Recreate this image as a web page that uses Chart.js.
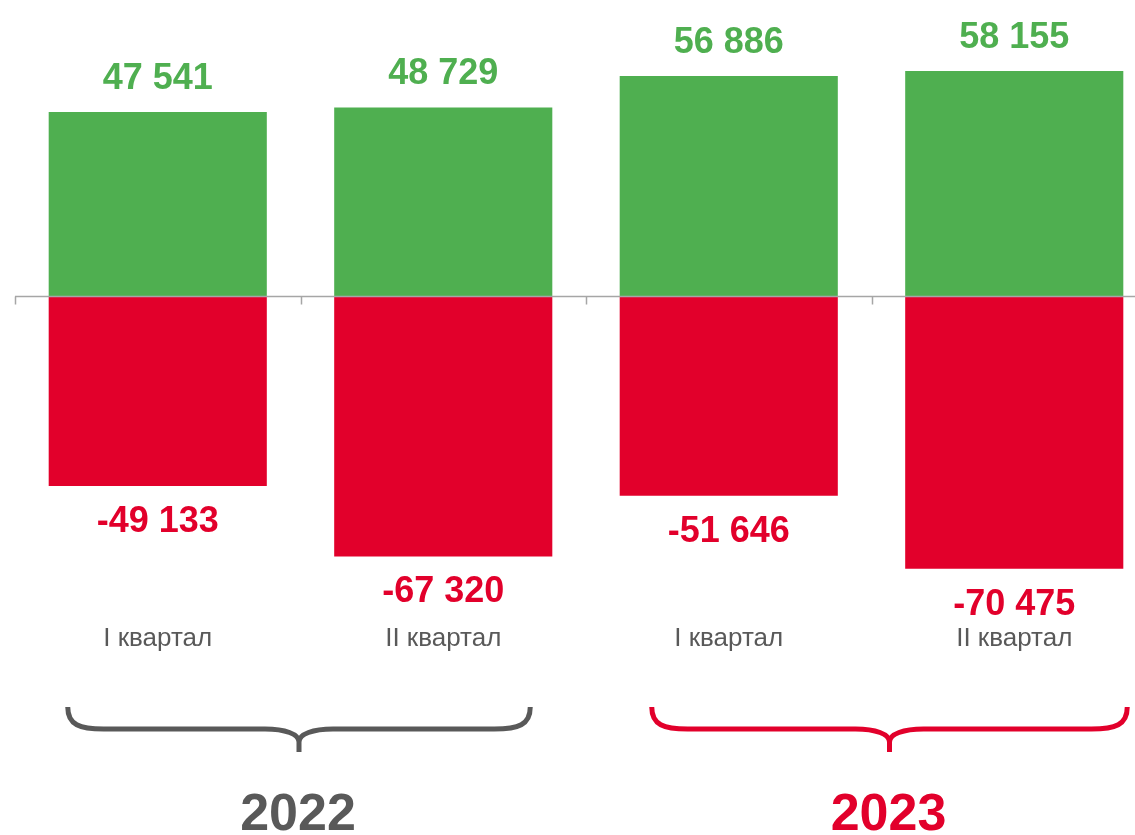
<!DOCTYPE html>
<html>
<head>
<meta charset="utf-8">
<script src="https://cdn.jsdelivr.net/npm/chart.js@4.4.1/dist/chart.umd.min.js"></script>
<style>
    html, body { margin: 0; padding: 0; background: #fff; overflow: hidden; }
    #wrap { position: relative; width: 1157px; height: 835px; }
</style>
</head>
<body>
<div id="wrap"><canvas id="quarterChart"></canvas></div>
<script>
// data
const quarters = ["I квартал", "II квартал", "I квартал", "II квартал"];
const incomeValues = [47541, 48729, 56886, 58155];
const expenseValues = [-49133, -67320, -51646, -70475];
const years = ["2022", "2023"];

const GREEN = "#4faf50";
const RED = "#e2002b";
const GREY = "#595959";
const AXIS = "#a6a6a6";

function fmt(v) {
    var s = Math.abs(v).toString().replace(/\B(?=(\d{3})+(?!\d))/g, " ");
    return (v < 0 ? "-" : "") + s;
}

// zero line with little tick marks between quarters
const axisLine = {
    id: "axisLine",
    afterDatasetsDraw(chart) {
        const ctx = chart.ctx;
        const x = chart.scales.x;
        const y0 = Math.round(chart.scales.y.getPixelForValue(0)) + 0.5;
        const step = x.getPixelForValue(1) - x.getPixelForValue(0);
        ctx.save();
        ctx.strokeStyle = AXIS;
        ctx.lineWidth = 1.5;
        ctx.beginPath();
        ctx.moveTo(x.left, y0);
        ctx.lineTo(chart.width, y0);
        for (let i = 0; i < quarters.length; i++) {
            const bx = Math.round(x.getPixelForValue(i) - step / 2) + 0.5;
            ctx.moveTo(bx, y0);
            ctx.lineTo(bx, y0 + 8);
        }
        ctx.stroke();
        ctx.restore();
    },
};

// value labels, quarter labels, year braces
const labels = {
    id: "labels",
    afterDraw(chart) {
        const ctx = chart.ctx;
        const x = chart.scales.x;
        ctx.save();
        ctx.textAlign = "center";
        ctx.textBaseline = "alphabetic";

        ctx.font = "bold 36px 'Liberation Sans', Arial, sans-serif";
        chart.getDatasetMeta(0).data.forEach((bar, i) => {
            ctx.fillStyle = GREEN;
            ctx.fillText(fmt(incomeValues[i]), bar.x, bar.y - 23);
        });
        chart.getDatasetMeta(1).data.forEach((bar, i) => {
            ctx.fillStyle = RED;
            ctx.fillText(fmt(expenseValues[i]), bar.x, bar.y + 46);
        });

        ctx.font = "26px 'Liberation Sans', Arial, sans-serif";
        ctx.fillStyle = GREY;
        quarters.forEach((q, i) => {
            ctx.fillText(q, x.getPixelForValue(i), 646);
        });

        // braces under each year
        const braces = [
            { x0: x.getPixelForValue(0) - 90, x1: x.getPixelForValue(1) + 87, color: GREY },
            { x0: x.getPixelForValue(2) - 77, x1: x.getPixelForValue(3) + 113, color: RED },
        ];
        braces.forEach((b, k) => {
            const top = 707, hy = 729, tip = 752;
            const cx = (b.x0 + b.x1) / 2;
            ctx.strokeStyle = b.color;
            ctx.lineWidth = 5;
            ctx.beginPath();
            ctx.moveTo(b.x0, top);
            ctx.bezierCurveTo(b.x0, hy - 4, b.x0 + 12, hy, b.x0 + 36, hy);
            ctx.lineTo(cx - 34, hy);
            ctx.bezierCurveTo(cx - 14, hy, cx, hy + 5, cx, tip - 10);
            ctx.lineTo(cx, tip);
            ctx.moveTo(cx, tip - 10);
            ctx.bezierCurveTo(cx, hy + 5, cx + 14, hy, cx + 34, hy);
            ctx.lineTo(b.x1 - 36, hy);
            ctx.bezierCurveTo(b.x1 - 12, hy, b.x1, hy - 4, b.x1, top);
            ctx.stroke();

            ctx.fillStyle = b.color;
            ctx.font = "bold 52px 'Liberation Sans', Arial, sans-serif";
            ctx.fillText(years[k], cx - 1, 830);
        });
        ctx.restore();
    },
};

document.addEventListener("DOMContentLoaded", function () {
    var canvas = document.getElementById("quarterChart");
    new Chart(canvas.getContext("2d"), {
        type: "bar",
        data: {
            labels: quarters,
            datasets: [
                {
                    data: incomeValues,
                    backgroundColor: GREEN,
                    borderWidth: 0,
                    categoryPercentage: 1,
                    barPercentage: 0.764,
                },
                {
                    data: expenseValues,
                    backgroundColor: RED,
                    borderWidth: 0,
                    categoryPercentage: 1,
                    barPercentage: 0.764,
                },
            ],
        },
        options: {
            responsive: true,
            maintainAspectRatio: false,
            animation: false,
            layout: { padding: { left: 15, right: 0, top: 0, bottom: 0 } },
            plugins: {
                legend: { display: false },
                tooltip: { enabled: false },
            },
            scales: {
                x: { stacked: true, display: false, offset: true },
                y: { stacked: true, display: false, min: -139300, max: 76500 },
            },
        },
        plugins: [axisLine, labels],
    });
});
</script>
</body>
</html>
